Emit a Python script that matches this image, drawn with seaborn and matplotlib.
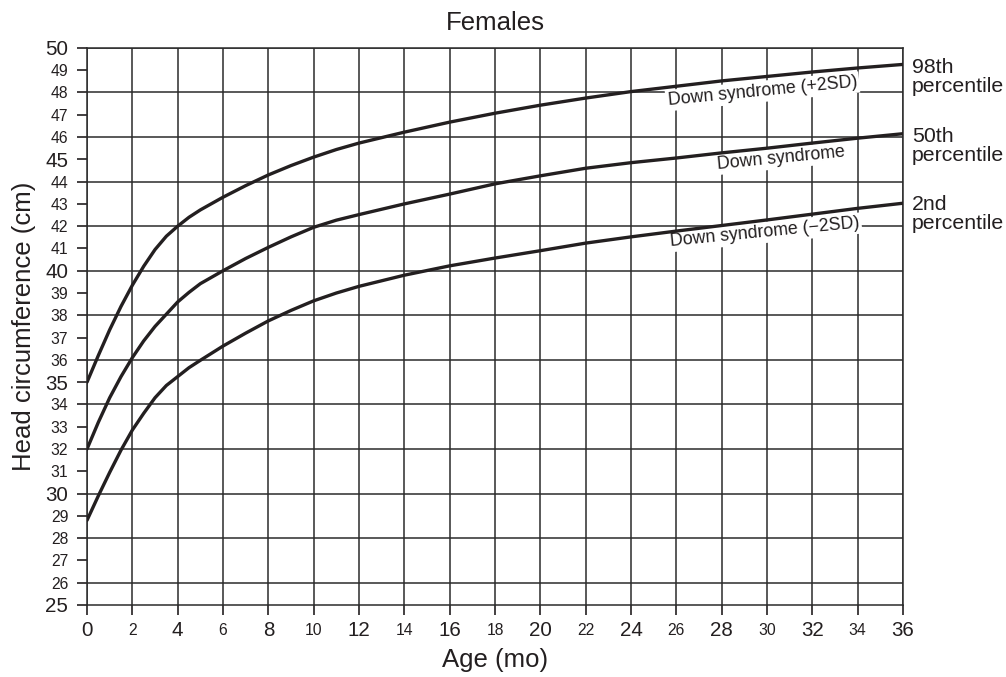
import matplotlib
matplotlib.use("Agg")
import matplotlib.pyplot as plt
import matplotlib.transforms as mtransforms
import seaborn as sns
import pandas as pd

# Age points (months)
ages = [0, 0.5, 1, 1.5, 2, 2.5, 3, 3.5, 4, 4.5, 5, 6, 7, 8, 9, 10, 11, 12, 14, 16, 18, 20,
        22, 24, 26, 28, 30, 32, 34, 36]

# Head circumference (cm) for the three Down syndrome curves
upper_2sd = [35.0, 36.2, 37.35, 38.4, 39.35, 40.2, 40.95, 41.55, 42.0, 42.4, 42.73, 43.3, 43.82,
             44.3, 44.72, 45.1, 45.44, 45.73, 46.22, 46.67, 47.07, 47.43, 47.75, 48.04, 48.28,
             48.52, 48.72, 48.92, 49.1, 49.26]
median = [32.0, 33.2, 34.3, 35.25, 36.1, 36.85, 37.5, 38.05, 38.6, 39.03, 39.42, 40.0, 40.55,
          41.05, 41.52, 41.95, 42.27, 42.52, 43.0, 43.44, 43.9, 44.26, 44.6, 44.85, 45.06,
          45.29, 45.5, 45.73, 45.95, 46.15]
lower_2sd = [28.8, 29.9, 30.95, 31.95, 32.85, 33.6, 34.3, 34.85, 35.25, 35.65, 35.98, 36.62, 37.2,
             37.75, 38.22, 38.65, 39.0, 39.3, 39.8, 40.22, 40.57, 40.9, 41.24, 41.52, 41.78,
             42.03, 42.28, 42.54, 42.8, 43.03]

curve_names = ["Down syndrome (+2SD)", "Down syndrome", "Down syndrome (\u22122SD)"]
percentile_labels = ["98th\npercentile", "50th\npercentile", "2nd\npercentile"]
percentile_y = [48.7, 45.6, 42.55]
label_pos = [(29.8, 48.05), (30.6, 45.05), (29.9, 41.72)]

df = pd.DataFrame({
    "age": ages * 3,
    "hc": upper_2sd + median + lower_2sd,
    "curve": [curve_names[0]] * len(ages) + [curve_names[1]] * len(ages) + [curve_names[2]] * len(ages),
})

sns.set_theme(style="white")
plt.rcParams["font.family"] = ["Liberation Sans", "DejaVu Sans"]
ink = "#231f20"

fig = plt.figure(figsize=(10.06, 6.77), dpi=100)
ax = fig.add_axes([0.0865, 0.1064, 0.8111, 0.8228])

sns.lineplot(data=df, x="age", y="hc", hue="curve", palette=[ink] * 3, estimator=None,
             linewidth=2.4, legend=False, ax=ax, zorder=4)

ax.set_xlim(0, 36)
ax.set_ylim(25, 50)

# ticks: labels every 1 cm, horizontal grid every 2 cm
ax.set_xticks(range(0, 37, 2))
ax.set_yticks(range(25, 51))
ax.set_yticks(range(26, 51, 2), minor=True)
ax.yaxis.remove_overlapping_locs = False
ax.tick_params(axis="both", which="major", direction="out", length=7, width=1.2, color=ink,
               labelcolor=ink, left=True, bottom=True)
ax.tick_params(axis="y", which="major", pad=6.5)
ax.tick_params(axis="x", which="major", pad=11.5)
ax.tick_params(axis="y", which="minor", length=0, left=False)

for lab, v in zip(ax.get_xticklabels(), range(0, 37, 2)):
    lab.set_fontsize(14.8 if v % 4 == 0 else 11.3)
    lab.set_verticalalignment("center")
for lab, v in zip(ax.get_yticklabels(), range(25, 51)):
    lab.set_fontsize(14.8 if v % 5 == 0 else 11.3)

# grid
ax.set_axisbelow(True)
ax.grid(axis="x", which="major", color="#2b2b2b", linewidth=1.1)
ax.grid(axis="y", which="major", visible=False)
ax.yaxis.grid(True, which="minor", color="#2b2b2b", linewidth=1.1)
for s in ax.spines.values():
    s.set_color("#2b2b2b")
    s.set_linewidth(1.1)

ax.set_title("Females", fontsize=18.5, color=ink, pad=13)
ax.set_xlabel("Age (mo)", fontsize=18.5, color=ink)
ax.set_ylabel("Head circumference (cm)", fontsize=18.5, color=ink)
ax.xaxis.set_label_coords(0.5, -0.078)
ax.yaxis.set_label_coords(-0.0625, 0.5)

# curve labels with white boxes
for name, (x, y) in zip(curve_names, label_pos):
    ax.text(x, y, name, fontsize=12.8, color=ink, rotation=5.6, rotation_mode="anchor",
            ha="center", va="center", zorder=3,
            bbox=dict(facecolor="white", edgecolor="none", pad=1.5))

# percentile labels outside the right edge
trans = mtransforms.blended_transform_factory(ax.transAxes, ax.transData)
for txt, y in zip(percentile_labels, percentile_y):
    ax.text(1.011, y, txt, transform=trans, fontsize=15.3, color=ink, ha="left", va="center",
            linespacing=0.95)

fig.savefig("out.png", dpi=100)
